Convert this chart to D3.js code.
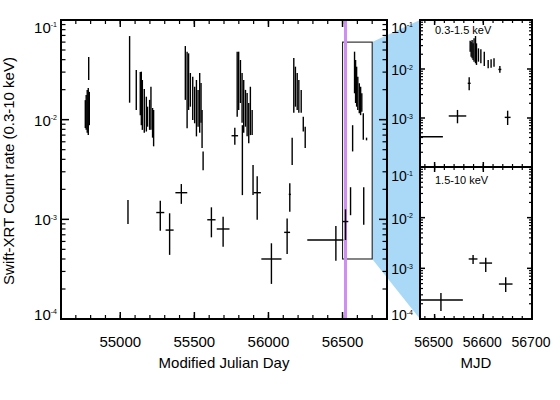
<!DOCTYPE html>
<html><head><meta charset="utf-8">
<script src="https://cdn.jsdelivr.net/npm/d3@7"></script>
<style>
body{margin:0;background:#fff}
text{font-family:"Liberation Sans",Arial,Helvetica,sans-serif;fill:#000}
</style>
</head><body>
<svg id="c" width="560" height="400"></svg>
<script>
// ---------------- data ----------------
const mainXTicks = [55000, 55500, 56000, 56500];
const sideXTicks = [56500, 56600, 56700];
const decadeTicks = [1e-4, 1e-3, 1e-2, 1e-1];
const decadeLabels = ["-4", "-3", "-2", "-1"];
const xTitleMain = "Modified Julian Day";
const xTitleSide = "MJD";
const yTitle = "Swift-XRT Count rate (0.3-10 keV)";
const softLabel = "0.3-1.5 keV";
const hardLabel = "1.5-10 keV";
const zoomBoxMjd = [56500, 56700];
const zoomBoxRate = [4e-4, 0.06];
const markerMjd = 56520;

// rows: [MJD, MJD minus, MJD plus, rate low, rate high, (rate)]
const totalRate = [
  [54764,0,0,0.00825,0.0157],[54770,0,0,0.0079,0.0177],[54777,0,0,0.0074,0.0199],
  [54784,0,0,0.0070,0.0208],[54787,0,0,0.025,0.0425],[54791,0,0,0.0088,0.0190],
  [55063,0,0,0.0148,0.069],[55108,0,0,0.0125,0.0315],[55135,0,0,0.0111,0.0301],
  [55142,0,0,0.0088,0.0303],[55149,0,0,0.0079,0.025],[55162,0,0,0.0074,0.0203],
  [55176,0,0,0.0076,0.017],[55184,0,0,0.0085,0.0135],[55198,0,0,0.0079,0.0158],
  [55207,0,0,0.0079,0.0214],[55218,0,0,0.0066,0.0131],[55225,0,0,0.0054,0.0125],
  [55439,0,0,0.0158,0.0548],[55451,0,0,0.0082,0.0481],[55461,0,0,0.0125,0.0463],
  [55473,0,0,0.0135,0.0294],[55489,0,0,0.0099,0.027],[55502,0,0,0.0092,0.0214],
  [55514,0,0,0.0068,0.025],[55525,0,0,0.0085,0.0199],[55536,0,0,0.0074,0.0294],
  [55545,0,0,0.0093,0.0233],[55552,0,0,0.0052,0.0125],[55559,0,0,0.0031,0.0048],
  [55789,0,0,0.0107,0.0481],[55799,0,0,0.0125,0.0481],[55811,0,0,0.0147,0.0397],
  [55822,0,0,0.0093,0.0294],[55824,0,0,0.00175,0.0088],[55833,0,0,0.0074,0.025],
  [55845,0,0,0.0085,0.0199],[55856,0,0,0.0068,0.0185],[55867,0,0,0.0058,0.0147],
  [55878,0,0,0.0070,0.0214],[55890,0,0,0.0070,0.0125],[55896,0,0,0.00175,0.0035],
  [56160,0,0,0.0035,0.0066],[56171,0,0,0.0117,0.0416],[56182,0,0,0.0135,0.034],
  [56194,0,0,0.0125,0.0294],[56205,0,0,0.0117,0.025],[56221,0,0,0.0117,0.0199],
  [56235,0,0,0.0076,0.0107],[56248,0,0,0.0052,0.0085],
  [56554,2,2,0.0011,0.0021,0.0016],[56568,0,0,0.0048,0.0088],[56581,0,0,0.0184,0.0481],
  [56588,0,0,0.0147,0.0397],[56595,0,0,0.0135,0.034],[56603,0,0,0.0125,0.027],
  [56613,0,0,0.0116,0.0232],[56622,0,0,0.0111,0.0214],[56630,0,0,0.012,0.0184],
  [56640,0,0,0.0063,0.0116],[56643,0,0,0.00088,0.0021],[56662,0,0,0.0062,0.0066],
  [55052,0,0,0.0009,0.00156],
  [55270,27,27,0.00077,0.00154,0.00117],[55333,27,27,0.00044,0.00115,0.00078],
  [55412,40,40,0.00143,0.00226,0.00185],[55615,28,28,0.00066,0.00132,0.00099],
  [55694,43,43,0.00053,0.00106,0.0008],[55773,22,22,0.0056,0.0083,0.0069],
  [55924,25,25,0.00099,0.0027,0.00185],[56020,68,68,0.000225,0.000575,0.0004],
  [56126,20,20,0.00045,0.00102,0.00074],[56144,7,7,0.00119,0.0023,0.00178],
  [56455,193,50,0.000385,0.000858,0.00062],[56520,19,19,0.00062,0.00126,0.00095]
];
const softRate = [
  [56455,190,62,0.000415,0.000415,0.000415],
  [56547,18,18,0.00078,0.00146,0.0011],[56571,3,3,0.0037,0.0068,0.0051],
  [56573,0,0,0.0225,0.0378],[56575,0,0,0.0178,0.0361],[56577,0,0,0.0165,0.0391],
  [56579,0,0,0.0153,0.0334],[56581,0,0,0.0141,0.0424],[56584,0,0,0.0131,0.0471],
  [56586,0,0,0.0121,0.0334],[56590,0,0,0.0141,0.0264],[56595,0,0,0.0131,0.0252],
  [56602,0,0,0.0115,0.0225],[56610,0,0,0.0103,0.0153],[56616,0,0,0.0106,0.0158],
  [56622,0,0,0.0111,0.0165],[56634,3,3,0.0084,0.0115,0.0098],
  [56650,6,6,0.00072,0.00141,0.00103]
];
const hardRate = [
  [56513,43,45,0.000144,0.000327,0.000237],
  [56579,9,9,0.00122,0.00183,0.00153],
  [56605,13,13,0.00085,0.00161,0.00127],
  [56646,14,14,0.00034,0.00067,0.00049]
];

// ---------------- layout ----------------
const M = {l:61, r:387, t:20, b:319};
const S = {l:420, r:532, t:20, m:167, b:319};
const svg = d3.select("#c");

const x = d3.scaleLinear().domain([54600, 56800]).range([M.l, M.r]);
const y = d3.scaleLog().domain([1e-4, 1e-1]).range([M.b, M.t]);
const xs = d3.scaleLinear().domain([56470, 56700]).range([S.l, S.r]);
const ys = d3.scaleLog().domain([1e-4, 1e-1]).range([S.m, S.t]);
const yh = d3.scaleLog().domain([1e-4, 1e-1]).range([S.b, S.m]);

const minorLog = [];
for (let e = -4; e < -1; e++) for (let k = 2; k <= 9; k++) minorLog.push(k * Math.pow(10, e));

// blue connector
svg.append("path")
  .attr("d", `M${x(zoomBoxMjd[1])},${y(zoomBoxRate[1])}L${S.l},${S.t}L${S.l},${S.b}L${x(zoomBoxMjd[1])},${y(zoomBoxRate[0])}Z`)
  .attr("fill", "#a9d9f7");

// zoom box
svg.append("rect")
  .attr("x", x(zoomBoxMjd[0])).attr("y", y(zoomBoxRate[1]))
  .attr("width", x(zoomBoxMjd[1]) - x(zoomBoxMjd[0]))
  .attr("height", y(zoomBoxRate[0]) - y(zoomBoxRate[1]))
  .attr("fill", "none").attr("stroke", "#222").attr("stroke-width", 1.1);

// purple marker
svg.append("line").attr("x1", x(markerMjd)).attr("x2", x(markerMjd))
  .attr("y1", M.t).attr("y2", M.b).attr("stroke", "#cf8ef2").attr("stroke-width", 3);

function drawBars(g, rows, sx, sy) {
  g.selectAll("line.v").data(rows.filter(r => r[4] > r[3])).join("line")
    .attr("class", "v")
    .attr("x1", r => sx(r[0])).attr("x2", r => sx(r[0]))
    .attr("y1", r => sy(r[3])).attr("y2", r => sy(r[4]));
  g.selectAll("line.h").data(rows.filter(r => r[1] + r[2] > 0)).join("line")
    .attr("class", "h")
    .attr("x1", r => sx(r[0] - r[1])).attr("x2", r => sx(r[0] + r[2]))
    .attr("y1", r => sy(r[5])).attr("y2", r => sy(r[5]));
}

// clip paths
const defs = svg.append("defs");
defs.append("clipPath").attr("id", "cm").append("rect").attr("x", M.l).attr("y", M.t).attr("width", M.r - M.l).attr("height", M.b - M.t);
defs.append("clipPath").attr("id", "cs").append("rect").attr("x", S.l).attr("y", S.t).attr("width", S.r - S.l).attr("height", S.m - S.t);
defs.append("clipPath").attr("id", "ch").append("rect").attr("x", S.l).attr("y", S.m).attr("width", S.r - S.l).attr("height", S.b - S.m);

const gm = svg.append("g").attr("clip-path", "url(#cm)").attr("stroke", "#000").attr("stroke-width", 1.4);
drawBars(gm, totalRate, x, y);
const gs = svg.append("g").attr("clip-path", "url(#cs)").attr("stroke", "#000").attr("stroke-width", 1.4);
drawBars(gs, softRate, xs, ys);
const gh = svg.append("g").attr("clip-path", "url(#ch)").attr("stroke", "#000").attr("stroke-width", 1.4);
drawBars(gh, hardRate, xs, yh);

// ---------------- axes ----------------
const ax = svg.append("g").attr("stroke", "#000");

function frame(l, t, r, b) {
  ax.append("rect").attr("x", l).attr("y", t).attr("width", r - l).attr("height", b - t)
    .attr("fill", "none").attr("stroke-width", 2);
}
function yTicksDraw(sy, l, r, maj, mnr) {
  decadeTicks.forEach(v => {
    ax.append("line").attr("x1", l).attr("x2", l + maj).attr("y1", sy(v)).attr("y2", sy(v)).attr("stroke-width", 1.5);
    ax.append("line").attr("x1", r).attr("x2", r - maj).attr("y1", sy(v)).attr("y2", sy(v)).attr("stroke-width", 1.5);
  });
  minorLog.forEach(v => {
    ax.append("line").attr("x1", l).attr("x2", l + mnr).attr("y1", sy(v)).attr("y2", sy(v)).attr("stroke-width", 1.2);
    ax.append("line").attr("x1", r).attr("x2", r - mnr).attr("y1", sy(v)).attr("y2", sy(v)).attr("stroke-width", 1.2);
  });
}
function xTicksDraw(sx, majors, minors, t, b, maj, mnr) {
  minors.forEach(v => {
    ax.append("line").attr("x1", sx(v)).attr("x2", sx(v)).attr("y1", b).attr("y2", b - mnr).attr("stroke-width", 1.2);
    ax.append("line").attr("x1", sx(v)).attr("x2", sx(v)).attr("y1", t).attr("y2", t + mnr).attr("stroke-width", 1.2);
  });
  majors.forEach(v => {
    ax.append("line").attr("x1", sx(v)).attr("x2", sx(v)).attr("y1", b).attr("y2", b - maj).attr("stroke-width", 1.5);
    ax.append("line").attr("x1", sx(v)).attr("x2", sx(v)).attr("y1", t).attr("y2", t + maj).attr("stroke-width", 1.5);
  });
}
function yLabels(sy, xr, size, offsets) {
  decadeTicks.forEach((v, i) => {
    if (offsets[i] === null) return;
    const t = svg.append("text").attr("x", xr).attr("y", sy(v) + offsets[i])
      .attr("text-anchor", "end").style("font-size", size + "px");
    t.append("tspan").text("10");
    t.append("tspan").attr("dy", -size * 0.37).style("font-size", "7px").text(decadeLabels[i]);
  });
}

// main
const mainMinor = d3.range(54600, 56801, 100);
frame(M.l, M.t, M.r, M.b);
yTicksDraw(y, M.l, M.r, 8, 4.5);
xTicksDraw(x, mainXTicks, mainMinor, M.t, M.b, 7, 4);
yLabels(y, 57, 15, [1, 6, 6, 12.5]);
mainXTicks.forEach(v => svg.append("text").attr("x", x(v)).attr("y", 347)
  .attr("text-anchor", "middle").style("font-size", "15px").text(v));
svg.append("text").attr("x", (M.l + M.r) / 2).attr("y", 368).attr("text-anchor", "middle")
  .style("font-size", "15px").text(xTitleMain);
svg.append("text").attr("transform", "translate(14,171) rotate(-90)")
  .attr("text-anchor", "middle").style("font-size", "15px").text(yTitle);

// side panels
const sideMinor = d3.range(56480, 56701, 20);
frame(S.l, S.t, S.r, S.m);
frame(S.l, S.m, S.r, S.b);
yTicksDraw(ys, S.l, S.r, 5, 3);
yTicksDraw(yh, S.l, S.r, 5, 3);
xTicksDraw(xs, sideXTicks, sideMinor, S.t, S.m, 5, 3);
xTicksDraw(xs, sideXTicks, sideMinor, S.m, S.b, 5, 3);
yLabels(ys, 413, 14, [null, 6, 6, 12.5]);
yLabels(yh, 413, 14, [1, 6, 6, 14]);
sideXTicks.forEach(v => svg.append("text").attr("x", xs(v) - 1).attr("y", 347)
  .attr("text-anchor", "middle").style("font-size", "14px").text(v));
svg.append("text").attr("x", (S.l + S.r) / 2).attr("y", 368).attr("text-anchor", "middle")
  .style("font-size", "15px").text(xTitleSide);
svg.append("text").attr("x", 435).attr("y", 34).style("font-size", "11px").text(softLabel);
svg.append("text").attr("x", 435).attr("y", 184).style("font-size", "11px").text(hardLabel);
</script>
</body></html>
